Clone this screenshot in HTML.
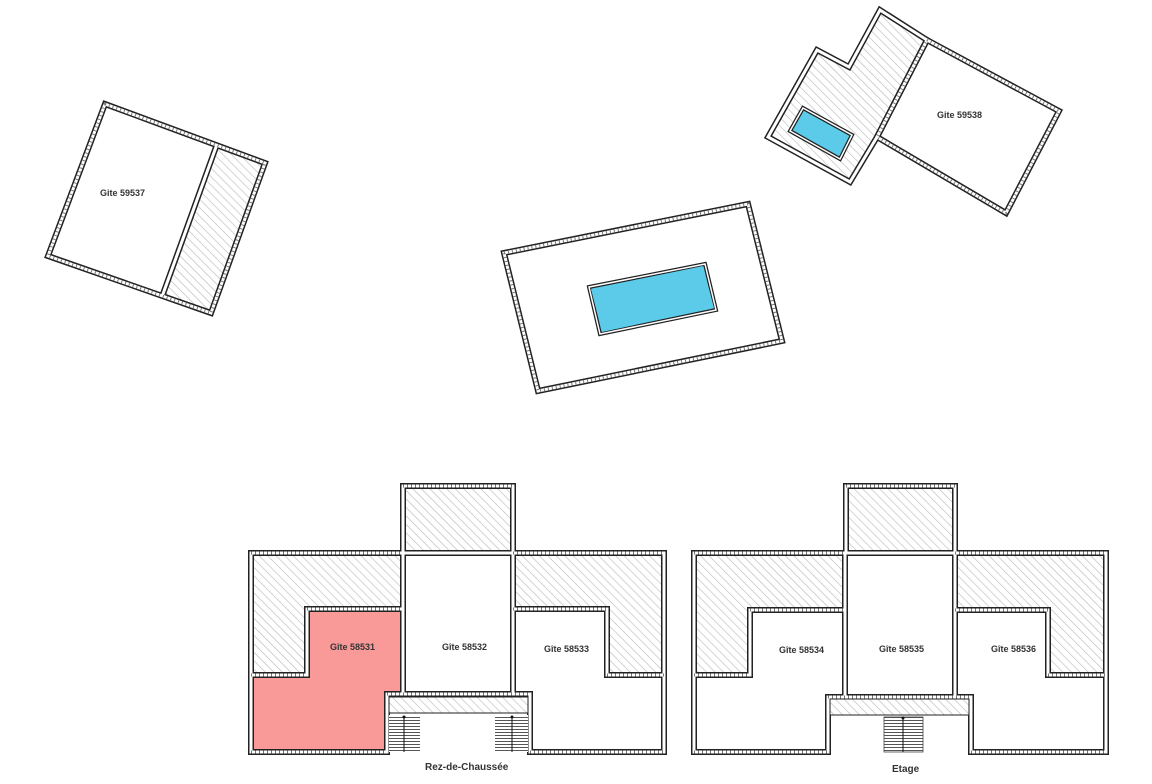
<!DOCTYPE html>
<html><head><meta charset="utf-8"><style>
html,body{margin:0;padding:0;background:#fff;}
svg{display:block;}
text{font-family:"Liberation Sans",sans-serif;font-size:9px;font-weight:bold;fill:#333;}
</style></head><body>
<svg width="1152" height="784" viewBox="0 0 1152 784" xmlns="http://www.w3.org/2000/svg">
<defs>
<pattern id="h" patternUnits="userSpaceOnUse" width="6" height="6" patternTransform="rotate(-45)">
<rect width="6" height="6" fill="#fff"/><line x1="0" y1="0" x2="0" y2="6" stroke="#b8b8b8" stroke-width="1.2"/>
</pattern>
<pattern id="s" patternUnits="userSpaceOnUse" width="4" height="3">
<rect width="4" height="3" fill="#fff"/><line x1="0" y1="0.5" x2="4" y2="0.5" stroke="#555" stroke-width="1"/>
</pattern>
</defs>
<style>
.wo{fill:none;stroke:#222;stroke-width:6;stroke-linejoin:miter;stroke-linecap:square}
.wi{fill:none;stroke:#fff;stroke-width:3;stroke-linejoin:miter;stroke-linecap:square}
.wt{fill:none;stroke:#777;stroke-width:3;stroke-dasharray:1 3;stroke-linecap:butt}
</style>

<!-- Left building -->
<polygon points="216,147 265,163 211,313 163,294" fill="url(#h)"/>
<g><polygon class="wo" points="105,104 265,163 211,313 48,256"/><line class="wo" x1="216" y1="147" x2="163" y2="294"/>
<polygon class="wi" points="105,104 265,163 211,313 48,256"/><line class="wi" x1="216" y1="147" x2="163" y2="294"/>
<polygon class="wt" points="105,104 265,163 211,313 48,256"/></g>
<text x="100" y="196">Gite 59537</text>

<!-- Top right -->
<polygon points="880,10 927,40 877,137 850,182 768,137 817,50 849,67" fill="url(#h)"/>
<polygon points="803,108 852,135 840,159 790,131" fill="#5bcbe9"/>
<g>
<polygon class="wo" points="880,10 927,40 877,137 850,182 768,137 817,50 849,67"/>
<polygon class="wo" points="927,40 1059,111 1006,213 877,137"/>
<polygon class="wo" style="stroke-width:4" points="803,108 852,135 840,159 790,131"/>
<polygon class="wi" points="880,10 927,40 877,137 850,182 768,137 817,50 849,67"/>
<polygon class="wi" points="927,40 1059,111 1006,213 877,137"/>
<polygon class="wt" points="927,40 1059,111 1006,213 877,137"/>
<polygon class="wi" style="stroke-width:1.5;fill:none" points="803,108 852,135 840,159 790,131"/>
</g>
<text x="937" y="118">Gite 59538</text>

<!-- Center pool -->
<g>
<polygon class="wo" points="504,253 748,204 782,341 538,391"/>
<polygon class="wi" points="504,253 748,204 782,341 538,391"/>
<polygon class="wt" points="504,253 748,204 782,341 538,391"/>
<polygon points="589,287 705,264 716,310 600,334" fill="#5bcbe9" stroke="#222" stroke-width="4"/>
<polygon points="589,287 705,264 716,310 600,334" fill="none" stroke="#fff" stroke-width="1.5"/>
<polygon points="591,289 703,266 714,308 602,332" fill="#5bcbe9"/>
</g>

<!-- Rez-de-chaussee -->
<rect x="405" y="486" width="108" height="67" fill="url(#h)"/>
<polygon points="251,553 403,553 403,609 307,609 307,675 251,675" fill="url(#h)"/>
<polygon points="513,553 664,553 664,675 607,675 607,609 513,609" fill="url(#h)"/>
<polygon points="307,609 403,609 403,694 387,694 387,752 251,752 251,675 307,675" fill="#f99a98"/>
<g>
<path class="wo" d="M403,553 V486 H513 V553 M251,553 H664 V752 H530 M387,752 H251 V553 M403,553 V694 M513,553 V694 M387,694 H530 V752 M387,694 V752 M251,675 H307 V609 H403 M664,675 H607 V609 H513"/>
<path class="wi" d="M403,553 V486 H513 V553 M251,553 H664 V752 H530 M387,752 H251 V553 M403,553 V694 M513,553 V694 M387,694 H530 V752 M387,694 V752 M251,675 H307 V609 H403 M664,675 H607 V609 H513"/>
<path class="wt" d="M403,486 H513 M251,553 H403 M513,553 H664 M251,752 H387 M530,752 H664 M251,675 H307 M607,675 H664 M307,609 H403 M513,609 H607 M387,694 H530"/>
</g>
<rect x="389" y="715" width="31" height="37" fill="url(#s)"/>
<rect x="495" y="715" width="33" height="37" fill="url(#s)"/>
<rect x="389" y="697" width="139" height="16" fill="url(#h)" stroke="#222" stroke-width="1"/>
<line x1="404" y1="717" x2="404" y2="752" stroke="#111" stroke-width="1"/>
<line x1="512" y1="717" x2="512" y2="752" stroke="#111" stroke-width="1"/>
<circle cx="404" cy="717" r="1.5" fill="#111"/><circle cx="512" cy="717" r="1.5" fill="#111"/>
<text x="330" y="650">Gîte 58531</text>
<text x="442" y="650">Gîte 58532</text>
<text x="544" y="652">Gîte 58533</text>
<text x="425" y="770" style="font-size:10px">Rez-de-Chaussée</text>

<!-- Etage -->
<rect x="847" y="486" width="108" height="67" fill="url(#h)"/>
<polygon points="694,553 845,553 845,610 750,610 750,675 694,675" fill="url(#h)"/>
<polygon points="955,553 1106,553 1106,675 1048,675 1048,610 955,610" fill="url(#h)"/>
<g>
<path class="wo" d="M846,553 V486 H955 V553 M694,553 H1106 V752 H971 V697 M828,752 H694 V553 M845,553 V697 M955,553 V697 M828,697 H971 M828,697 V752 M694,675 H750 V610 H845 M1106,675 H1048 V610 H955"/>
<path class="wi" d="M846,553 V486 H955 V553 M694,553 H1106 V752 H971 V697 M828,752 H694 V553 M845,553 V697 M955,553 V697 M828,697 H971 M828,697 V752 M694,675 H750 V610 H845 M1106,675 H1048 V610 H955"/>
<path class="wt" d="M846,486 H955 M694,553 H845 M955,553 H1106 M694,752 H828 M971,752 H1106 M694,675 H750 M1048,675 H1106 M750,610 H845 M955,610 H1048 M828,697 H971"/>
</g>
<rect x="830" y="699" width="139" height="16" fill="url(#h)" stroke="#222" stroke-width="1"/>
<rect x="884" y="717" width="39" height="35" fill="url(#s)" stroke="#444" stroke-width="0.8"/>
<line x1="903" y1="717" x2="903" y2="752" stroke="#111" stroke-width="1"/>
<circle cx="903" cy="718" r="1.5" fill="#111"/>
<text x="779" y="653">Gîte 58534</text>
<text x="879" y="652">Gîte 58535</text>
<text x="991" y="652">Gîte 58536</text>
<text x="892" y="772" style="font-size:10px">Etage</text>
</svg>
</body></html>
